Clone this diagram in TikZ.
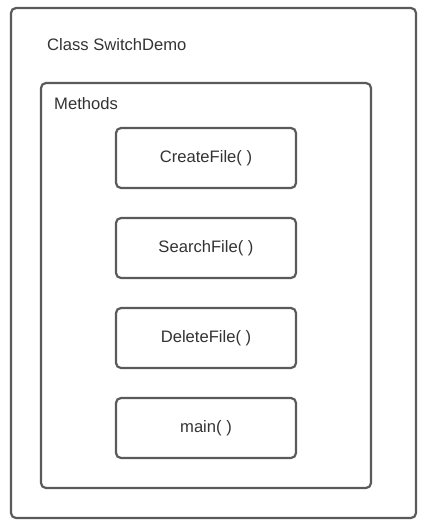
\documentclass[tikz,border=0pt]{standalone}
\usepackage{fontspec}
\setmainfont{Liberation Sans}
\definecolor{boxgray}{HTML}{5A5A5A}
\definecolor{textgray}{HTML}{333333}
\begin{document}
\begin{tikzpicture}
  [x=1pt,y=-1pt,
   every node/.style={inner sep=0pt,text=textgray,font=\fontsize{16.6}{20}\selectfont},
   frame/.style={draw=boxgray,line width=2.2pt,rounded corners=5pt},
   method/.style={frame,minimum width=180pt,minimum height=60pt}]
  \useasboundingbox (0,0) rectangle (424,530);
  \node[frame,minimum width=405pt,minimum height=510pt] (class) at (213.5,263) {};
  \node[anchor=west] (classname) at (47,45) {Class SwitchDemo};
  \node[frame,minimum width=330pt,minimum height=405pt] (methods) at (206,285.5) {};
  \node[anchor=west] (methodslabel) at (54,104) {Methods};

  \foreach \name/\y/\label in {create/158/CreateFile( ),search/248/SearchFile( ),
      delete/338/DeleteFile( ),main/428/main( )}
    \node[method] (\name) at (206,\y) {\label};

\end{tikzpicture}
\end{document}
